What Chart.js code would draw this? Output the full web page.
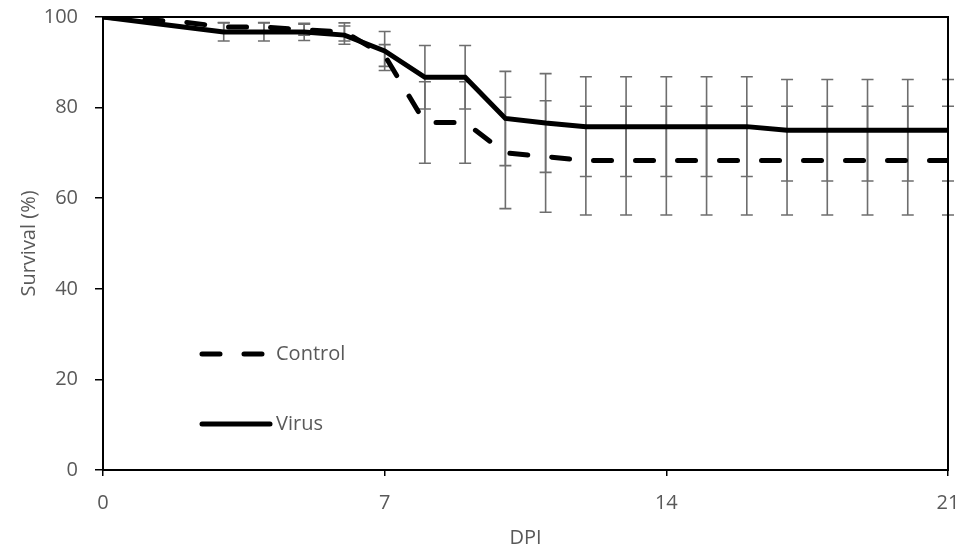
<!DOCTYPE html>
<html>
<head>
<meta charset="utf-8">
<script src="https://cdn.jsdelivr.net/npm/chart.js@4/dist/chart.umd.min.js"></script>
<style>
  html, body { margin: 0; padding: 0; background: #fff; }
  #wrap { width: 961px; height: 554px; }
</style>
</head>
<body>
<div id="wrap"><canvas id="chart" width="961" height="554"></canvas></div>
<script>
// days post infection
const days = [0, 1, 2, 3, 4, 5, 6, 7, 8, 9, 10, 11, 12, 13, 14, 15, 16, 17, 18, 19, 20, 21];
// survival (%)
const controlSurv = [100, 99.4, 98.9, 97.8, 97.8, 97.2, 96.7, 91.5, 76.7, 76.7, 70, 69.2, 68.3, 68.3, 68.3, 68.3, 68.3, 68.3, 68.3, 68.3, 68.3, 68.3];
const virusSurv = [100, 98.9, 97.8, 96.7, 96.7, 96.7, 96, 92.5, 86.7, 86.7, 77.6, 76.6, 75.8, 75.8, 75.8, 75.8, 75.8, 75, 75, 75, 75, 75];
// error (+/-)
const controlErr = [0, 0, 0, 1, 1, 1.2, 2, 2.4, 9, 9, 12.3, 12.3, 12, 12, 12, 12, 12, 12, 12, 12, 12, 12];
const virusErr = [0, 0, 0, 2, 2, 1.9, 2, 4.3, 7, 7, 10.4, 10.9, 11, 11, 11, 11, 11, 11.2, 11.2, 11.2, 11.2, 11.2];
const xTicks = [0, 7, 14, 21];

const grey = "#595959";
const fontFam = "'Open Sans', sans-serif";
const fs = 20;

// error bars drawn from the scales
const errorBars = {
  id: "errorBars",
  beforeDatasetsDraw(chart) {
    const { ctx, scales: { x, y } } = chart;
    ctx.save();
    ctx.strokeStyle = "#6e6e6e";
    ctx.lineWidth = 1.6;
    const sets = [[controlSurv, controlErr], [virusSurv, virusErr]];
    sets.forEach(([vals, errs]) => {
      days.forEach((d, i) => {
        if (!errs[i]) return;
        const px = x.getPixelForValue(d);
        const top = y.getPixelForValue(vals[i] + errs[i]);
        const bot = y.getPixelForValue(vals[i] - errs[i]);
        ctx.beginPath();
        ctx.moveTo(px, top); ctx.lineTo(px, bot);
        ctx.moveTo(px - 6, top); ctx.lineTo(px + 6, top);
        ctx.moveTo(px - 6, bot); ctx.lineTo(px + 6, bot);
        ctx.stroke();
      });
    });
    ctx.restore();
  },
  afterDraw(chart) {
    const { ctx, chartArea: a } = chart;
    ctx.save();
    // box around plot
    ctx.strokeStyle = "#000";
    ctx.lineWidth = 2;
    ctx.strokeRect(a.left, a.top, a.right - a.left, a.bottom - a.top);
    // legend inside plot
    const items = [
      { label: "Control", dash: [18, 24], y: 354 },
      { label: "Virus", dash: [], y: 424 },
    ];
    ctx.font = fs + "px " + fontFam;
    ctx.textBaseline = "middle";
    items.forEach((it) => {
      ctx.beginPath();
      ctx.setLineDash(it.dash);
      ctx.lineCap = "round";
      ctx.lineWidth = 5;
      ctx.strokeStyle = "#000";
      ctx.moveTo(202, it.y);
      ctx.lineTo(270, it.y);
      ctx.stroke();
      ctx.setLineDash([]);
      ctx.fillStyle = grey;
      ctx.fillText(it.label, 276, it.y);
    });
    ctx.restore();
  },
};

new Chart(document.getElementById("chart"), {
  type: "line",
  data: {
    labels: days,
    datasets: [
      {
        label: "Control",
        data: days.map((d, i) => ({ x: d, y: controlSurv[i] })),
        borderColor: "#000",
        borderWidth: 5,
        borderDash: [18, 24],
        borderCapStyle: "round",
        pointRadius: 0,
        tension: 0,
      },
      {
        label: "Virus",
        data: days.map((d, i) => ({ x: d, y: virusSurv[i] })),
        borderColor: "#000",
        borderWidth: 5,
        pointRadius: 0,
        tension: 0,
      },
    ],
  },
  options: {
    responsive: false,
    animation: false,
    layout: { padding: { top: 17, right: 13, left: 0, bottom: 0 } },
    plugins: {
      legend: { display: false },
      tooltip: { enabled: false },
    },
    scales: {
      x: {
        type: "linear",
        min: 0,
        max: 21,
        afterBuildTicks: (s) => { s.ticks = xTicks.map((v) => ({ value: v })); },
        afterFit: (s) => { s.height = 84; s.paddingLeft = 0; s.paddingRight = 0; },
        ticks: { color: grey, font: { size: fs, family: fontFam }, padding: 15 },
        grid: { display: true, drawOnChartArea: false, drawTicks: true, tickLength: 6, color: "#000", lineWidth: 1.5 },
        border: { display: true, color: "#000", width: 2 },
        title: { display: true, text: "DPI", color: grey, font: { size: fs, family: fontFam }, padding: { top: 4, bottom: 4 } },
      },
      y: {
        min: 0,
        max: 100,
        afterFit: (s) => { s.width = 103; s.paddingTop = 0; s.paddingBottom = 0; },
        ticks: { stepSize: 20, color: grey, font: { size: fs, family: fontFam }, padding: 17 },
        grid: { display: true, drawOnChartArea: false, drawTicks: true, tickLength: 8, color: "#000", lineWidth: 1.5 },
        border: { display: true, color: "#000", width: 2 },
        title: { display: true, text: "Survival (%)", color: grey, font: { size: fs, family: fontFam }, padding: { top: 17, bottom: 0 } },
      },
    },
  },
  plugins: [errorBars],
});
</script>
</body>
</html>
